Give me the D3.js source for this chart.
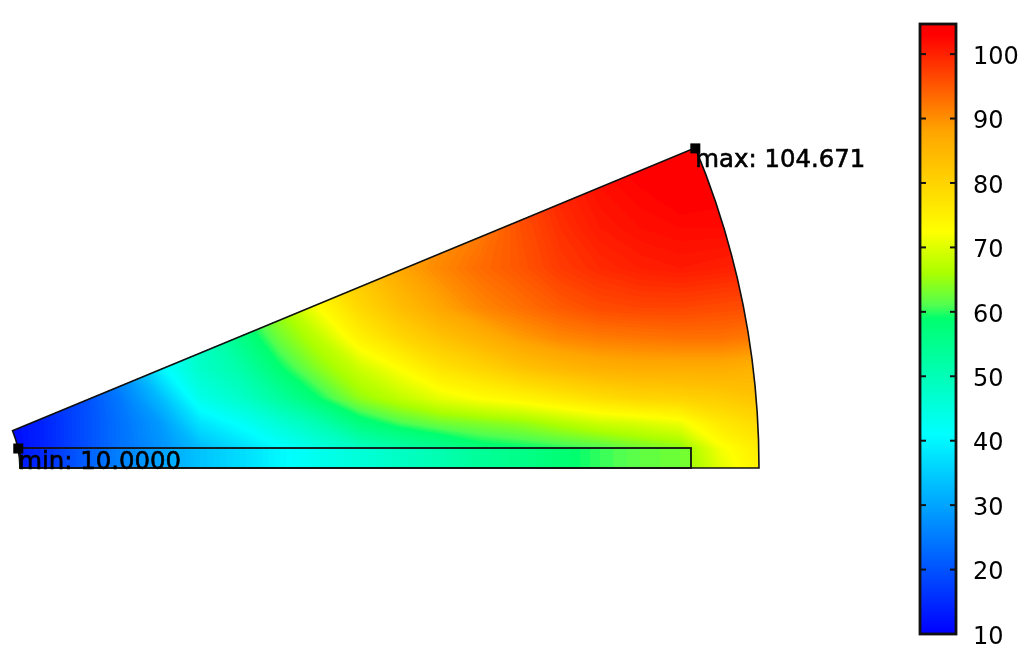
<!DOCTYPE html>
<html>
<head>
<meta charset="utf-8">
<script src="https://d3js.org/d3.v7.min.js"></script>
<style>
  html, body { margin: 0; background: #fff; }
  svg { display: block; filter: blur(0.5px); }
  text { font-family: "DejaVu Sans", sans-serif; font-size: 24px; fill: #000; }
  .domain { display: none; }
  .markerText { font-size: 24.4px; }
</style>
</head>
<body>
<script>
var svgWidth = 1024;
var svgHeight = 662;

// temperature, one array per grid row (top to bottom), 20 columns left to right
var row0 = [11, 15, 20, 28, 42, 50, 60, 72, 78, 84, 88, 90, 92, 97, 100, 103, 104, 104.6, 104, 103];
var row1 = [11, 15, 20, 28, 42, 50, 60, 72, 78, 84, 88, 90, 92, 97, 100, 102, 103, 104, 103.5, 103];
var row2 = [11, 15, 20, 28, 42, 50, 60, 72, 78, 84, 88, 90, 92, 96, 99, 101, 102, 102.5, 102.5, 102];
var row3 = [11, 15, 20, 28, 42, 50, 60, 72, 78, 83, 88, 91, 93.5, 95.5, 98, 99.5, 100.5, 101, 100.5, 100];
var row4 = [11, 15, 20, 28, 42, 50, 60, 66, 73, 79.5, 84, 88, 91, 93, 95, 96.5, 97, 97, 96.5, 96];
var row5 = [11, 15, 20, 28, 42, 49, 56, 63, 68, 75, 79.5, 83, 86, 89, 91, 92, 92.5, 93, 93, 92];
var row6 = [11, 15, 20, 28, 40, 48, 52, 59, 64.5, 69, 73, 77.5, 80, 83, 85, 86.5, 87, 87, 87, 86];
var row7 = [11, 15, 19, 25, 33, 44, 48, 53.5, 59.5, 65, 68, 71, 73, 74.5, 76.5, 78.5, 80, 80.5, 81.5, 83];
var row8 = [11, 14, 19, 24, 29, 38, 42, 46.5, 51, 57.5, 61, 63, 64, 65, 67, 69, 70, 71.5, 76.5, 79];
var row9 = [10, 14, 19, 24, 28, 33, 37, 41, 45, 49, 52, 55, 58, 59, 60, 61, 63, 64.5, 72, 76];
var row10 = [10, 14, 19, 24, 28, 33, 37, 41, 45, 49, 52, 55, 58, 59, 60, 61, 63, 64, 70.5, 75];
var fieldRows = [row0, row1, row2, row3, row4, row5, row6, row7, row8, row9, row10];

// temperature along the magnet strip
var magnetTemp = [12, 15, 21, 26, 30, 34, 37, 40.5, 43.5, 46, 48.5, 51, 54, 56, 58.5, 60.5, 62, 63, 63, 63];

// colour bar
var colorValues = [10, 41, 59, 61, 66, 72.5, 88, 103];
var colorNames = ["#0000ff", "#00ffff", "#00ff6e", "#50ff50", "#aaff00", "#ffff00", "#ffa500", "#ff0000"];
var tickValues = [10, 20, 30, 40, 50, 60, 70, 80, 90, 100];
var tempMin = 10;
var tempMax = 104.671;
var minLabel = "min: 10.0000";
var maxLabel = "max: 104.671";

var svg = d3.select("body")
  .append("svg")
  .attr("width", svgWidth)
  .attr("height", svgHeight);

var color = d3.scaleLinear().domain(colorValues).range(colorNames).clamp(true);

// field grid to screen
var colScale = d3.scaleLinear().domain([0.5, 19.5]).range([0, 760]);
var rowScale = d3.scaleLinear()
  .domain(d3.range(fieldRows.length).map(d => d + 0.5))
  .range([148, 188, 228, 268, 308, 338, 368, 398, 423, 448, 468]);
var magnetRowScale = d3.scaleLinear().domain([0.5, 1.5]).range([448, 468]);

// model geometry: wedge of 22.5 degrees, outer radius 1
var modelX = d3.scaleLinear().domain([0, 1]).range([-77.5, 759]);
var modelY = d3.scaleLinear().domain([0, 1]).range([468, 468 - 836.5]);
var rInner = 0.1165;
var rMagnetEnd = 0.9187;
var magnetHeight = 0.0239;
var wedgeAngle = Math.PI / 8;
var maxPoint = [Math.cos(wedgeAngle), Math.sin(wedgeAngle)];
var minPoint = [rInner - 0.002, magnetHeight];

var wedge = d3.arc()
  .innerRadius(modelX(rInner) - modelX(0))
  .outerRadius(modelX(1) - modelX(0))
  .startAngle(Math.PI / 2 - wedgeAngle)
  .endAngle(Math.PI / 2);
var centerTransform = `translate(${modelX(0)}, ${modelY(0)})`;

var defs = svg.append("defs");
defs.append("clipPath").attr("id", "wedgeClip")
  .append("path")
  .attr("transform", centerTransform)
  .attr("d", wedge());

var magnetAttrs = {
  x: modelX(rInner),
  y: modelY(magnetHeight),
  width: modelX(rMagnetEnd) - modelX(rInner),
  height: modelY(0) - modelY(magnetHeight)
};
defs.append("clipPath").attr("id", "magnetClip")
  .append("rect")
  .attr("x", magnetAttrs.x).attr("y", magnetAttrs.y)
  .attr("width", magnetAttrs.width).attr("height", magnetAttrs.height);

// filled contours, one per half degree; they nest so no seams show
var levels = d3.range(tempMin, tempMax + 0.5, 0.5);

function drawField(values, nCols, nRows, yScale, clipId) {
  var contours = d3.contours().size([nCols, nRows]).thresholds(levels)(values);
  var path = d3.geoPath(d3.geoTransform({
    point: function(x, y) { this.stream.point(colScale(x), yScale(y)); }
  }));
  svg.append("g")
    .attr("clip-path", `url(#${clipId})`)
    .selectAll("path")
    .data(contours)
    .enter()
    .append("path")
    .attr("d", path)
    .attr("fill", d => color(d.value));
}

drawField(fieldRows.flat(), fieldRows[0].length, fieldRows.length, rowScale, "wedgeClip");
drawField(magnetTemp.concat(magnetTemp), magnetTemp.length, 2, magnetRowScale, "magnetClip");

// outlines
svg.append("path")
  .attr("transform", centerTransform)
  .attr("d", wedge())
  .attr("fill", "none")
  .attr("stroke", "#111")
  .attr("stroke-width", 1.6);

svg.append("rect")
  .attr("x", magnetAttrs.x).attr("y", magnetAttrs.y)
  .attr("width", magnetAttrs.width).attr("height", magnetAttrs.height)
  .attr("fill", "none")
  .attr("stroke", "#111")
  .attr("stroke-width", 1.8);

// min and max markers
var markers = [
  { p: maxPoint, label: maxLabel, dy: 19 },
  { p: minPoint, label: minLabel, dy: 21 }
];
svg.selectAll(".marker").data(markers).enter()
  .append("rect")
  .attr("class", "marker")
  .attr("x", d => modelX(d.p[0]) - 5)
  .attr("y", d => modelY(d.p[1]) - 4.5)
  .attr("width", 10)
  .attr("height", 10)
  .attr("fill", "#000");

svg.selectAll(".markerText").data(markers).enter()
  .append("text")
  .attr("class", "markerText")
  .attr("x", d => modelX(d.p[0]))
  .attr("y", d => modelY(d.p[1]) + d.dy)
  .attr("stroke", "#000")
  .attr("stroke-width", 0.6)
  .text(d => d.label);

// colour bar
var barLeft = 920;
var barWidth = 36;
var barY = d3.scaleLinear().domain([tempMin, tempMax]).range([634, 24]);

var gradient = defs.append("linearGradient")
  .attr("id", "barGradient")
  .attr("x1", 0).attr("y1", 1).attr("x2", 0).attr("y2", 0);
gradient.selectAll("stop").data(colorValues).enter()
  .append("stop")
  .attr("offset", d => (d - tempMin) / (tempMax - tempMin))
  .attr("stop-color", d => color(d));

svg.append("rect")
  .attr("x", barLeft)
  .attr("y", barY(tempMax))
  .attr("width", barWidth)
  .attr("height", barY(tempMin) - barY(tempMax))
  .attr("fill", "url(#barGradient)")
  .attr("stroke", "#111")
  .attr("stroke-width", 2.8);

var barAxis = d3.axisRight(barY)
  .tickValues(tickValues)
  .tickSize(0)
  .tickPadding(17)
  .tickFormat(d3.format("d"));

svg.append("g")
  .attr("transform", `translate(${barLeft + barWidth}, 1.5)`)
  .call(barAxis)
  .selectAll("text")
  .style("font-size", "24px")
  .style("font-family", '"DejaVu Sans", sans-serif')
  .attr("fill", "#000");

// little inward ticks on both sides of the bar, none at the bottom end
var innerTicks = tickValues.slice(1);
[[barLeft, 6], [barLeft + barWidth, -6]].forEach(function(side) {
  svg.append("g").selectAll("line").data(innerTicks).enter()
    .append("line")
    .attr("x1", side[0])
    .attr("x2", side[0] + side[1])
    .attr("y1", d => barY(d))
    .attr("y2", d => barY(d))
    .attr("stroke", "#111")
    .attr("stroke-width", 2);
});
</script>
</body>
</html>
